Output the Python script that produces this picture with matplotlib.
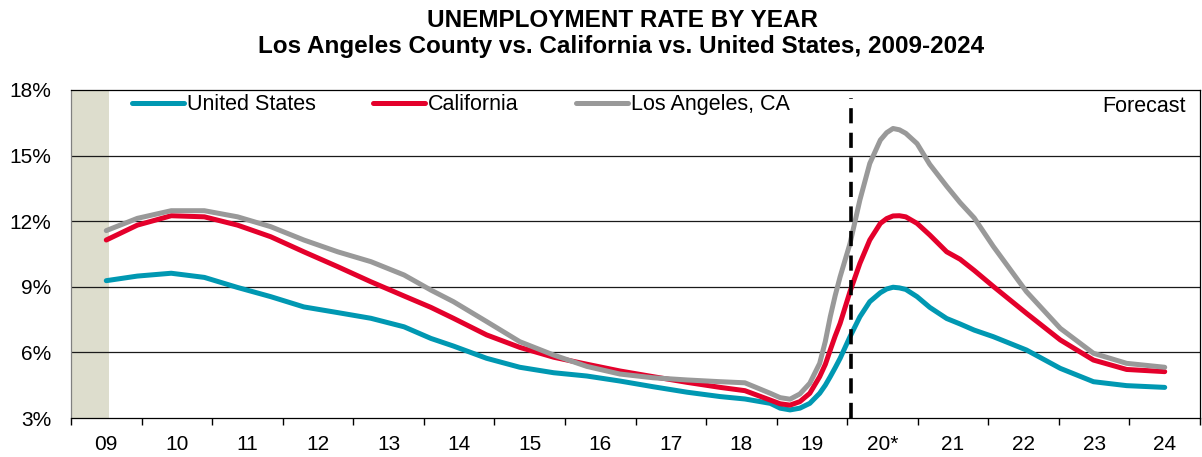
"""Unemployment rate by year: Los Angeles County vs. California vs. United States."""
import matplotlib

matplotlib.use("Agg")

import matplotlib.pyplot as plt
import numpy as np

plt.rcParams.update({
    "font.family": ["Liberation Sans", "DejaVu Sans"],
    "figure.facecolor": "white", "axes.facecolor": "white",
})

# Readings, x in fractional years (2009.0 = centre of "09")
x_years = [2009.00, 2009.44, 2009.92, 2010.39, 2010.86, 2011.33, 2011.80, 2012.28,
           2012.75, 2013.22, 2013.60, 2013.92, 2014.39, 2014.86, 2015.34, 2015.81,
           2016.28, 2016.75, 2017.23, 2017.70, 2018.05, 2018.41, 2018.55, 2018.69,
           2018.83, 2018.97, 2019.11, 2019.19, 2019.26, 2019.33, 2019.40, 2019.54,
           2019.68, 2019.82, 2019.97, 2020.06, 2020.15, 2020.24, 2020.33, 2020.49,
           2020.67, 2020.91, 2021.10, 2021.30, 2021.57, 2022.04, 2022.52, 2022.99,
           2023.46, 2024.00]

us_rate = [9.28, 9.49, 9.62, 9.43, 8.97, 8.55, 8.08, 7.82,
           7.56, 7.17, 6.64, 6.29, 5.73, 5.32, 5.07, 4.92,
           4.69, 4.43, 4.18, 3.98, 3.87, 3.67, 3.45, 3.37,
           3.45, 3.67, 4.13, 4.50, 4.89, 5.30, 5.73, 6.72,
           7.63, 8.32, 8.73, 8.90, 8.98, 8.95, 8.88, 8.55,
           8.06, 7.55, 7.30, 7.02, 6.72, 6.11, 5.27, 4.66,
           4.48, 4.40]

ca_rate = [11.14, 11.82, 12.25, 12.20, 11.82, 11.29, 10.60, 9.92,
           9.23, 8.58, 8.06, 7.56, 6.80, 6.23, 5.78, 5.46,
           5.15, 4.89, 4.63, 4.40, 4.25, 3.82, 3.65, 3.59,
           3.75, 4.13, 4.89, 5.45, 6.11, 6.75, 7.33, 8.78,
           10.07, 11.14, 11.90, 12.12, 12.24, 12.25, 12.20, 11.90,
           11.37, 10.60, 10.26, 9.75, 9.02, 7.79, 6.57, 5.65,
           5.22, 5.12]

la_rate = [11.57, 12.13, 12.48, 12.48, 12.20, 11.75, 11.14, 10.60,
           10.15, 9.54, 8.85, 8.32, 7.41, 6.49, 5.88, 5.36,
           5.01, 4.84, 4.74, 4.66, 4.61, 4.13, 3.93, 3.86,
           4.10, 4.59, 5.50, 6.50, 7.63, 8.60, 9.46, 10.98,
           12.97, 14.64, 15.71, 16.05, 16.24, 16.18, 16.02, 15.55,
           14.60, 13.60, 12.85, 12.15, 10.85, 8.78, 7.10, 5.96,
           5.50, 5.32]

years = list(range(2009, 2025))
year_labels = ["09", "10", "11", "12", "13", "14", "15", "16", "17", "18",
               "19", "20*", "21", "22", "23", "24"]
y_ticks = [3, 6, 9, 12, 15, 18]
forecast_start = 2019.55
shade_end = 2009.04

series = [("United States", us_rate, "#0098B2"),
          ("California", ca_rate, "#E4002B"),
          ("Los Angeles, CA", la_rate, "#999999")]

fig = plt.figure(figsize=(12.02, 4.57), dpi=100)
ax = fig.add_axes([71 / 1202, 1 - 418 / 457, 1129 / 1202, 328 / 457])

ax.axvspan(years[0] - 0.5, shade_end, color="#DDDDCD", lw=0, zorder=0)
for yv in y_ticks[1:-1]:
    ax.axhline(yv, color="#1a1a1a", lw=0.9, zorder=1)

for name, vals, col in series:
    ax.plot(x_years, vals, color=col, lw=3.6, label=name, zorder=3,
            solid_capstyle="round", solid_joinstyle="round")

ax.axvline(forecast_start, ymax=0.975, color="black", lw=2.6,
           linestyle=(0, (4.2, 2.6)), zorder=4)

ax.set_xlim(years[0] - 0.5, years[-1] + 0.5)
ax.set_ylim(y_ticks[0], y_ticks[-1])

# tick marks on category boundaries, labels at category centres
ax.set_xticks(np.arange(years[0] - 0.5, years[-1] + 1.0, 1.0))
ax.set_xticklabels([])
ax.set_xticks(years, minor=True)
ax.set_xticklabels(year_labels, minor=True)
ax.tick_params(axis="x", which="major", length=5, width=1, direction="out")
ax.tick_params(axis="x", which="minor", length=0, pad=12, labelsize=15)
ax.set_yticks(y_ticks)
ax.set_yticklabels([f"{v}%" for v in y_ticks])
ax.tick_params(axis="y", length=0, pad=14, labelsize=15)

for side in ("top", "right", "bottom"):
    ax.spines[side].set_color("black")
    ax.spines[side].set_linewidth(0.9)
ax.spines["left"].set_color("#808080")
ax.spines["left"].set_linewidth(0.9)

ax.legend(loc="center left", bbox_to_anchor=((132 - 71) / 1129, (418 - 105) / 328),
          ncol=3, frameon=False, fontsize=15.5, handlelength=2.42, handletextpad=0.14,
          columnspacing=2.65, borderaxespad=0, borderpad=0)

ax.text((1186 - 71) / 1129, (418 - 107) / 328, "Forecast", transform=ax.transAxes,
        ha="right", va="center", fontsize=15.5)

fig.text(0.518, 1 - 27 / 457, "UNEMPLOYMENT RATE BY YEAR", ha="center",
         va="baseline", fontsize=17.5, fontweight="bold")
fig.text(0.517, 1 - 53 / 457,
         "Los Angeles County vs. California vs. United States, 2009-2024",
         ha="center", va="baseline", fontsize=17.5, fontweight="bold")

fig.savefig("out.png", dpi=100)
plt.close(fig)
